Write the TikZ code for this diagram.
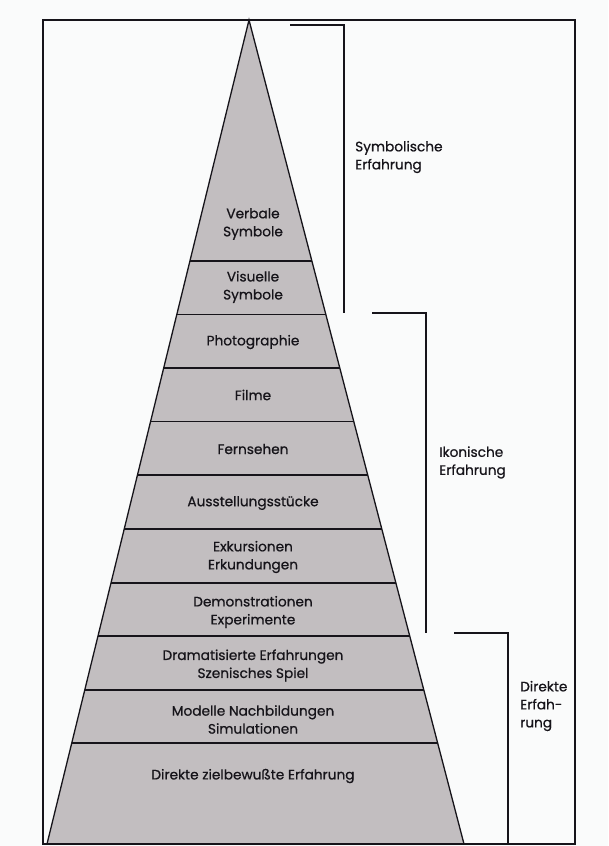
\documentclass[tikz,border=0pt]{standalone}
\usepackage{fontspec}
\setmainfont{Poppins}[BoldFont=Poppins, BoldFeatures={FakeBold=0.7}]
\usetikzlibrary{calc}
\begin{document}
\begin{tikzpicture}[x=1pt,y=-1pt,
  every node/.style={font=\fontsize{13.7}{18}\selectfont\bfseries, text=ink, inner sep=0pt},
  layertext/.style={align=center},
  sidetext/.style={align=left, anchor=west},
  layerline/.style={draw=ink, line width=1.1pt},
  bracketline/.style={draw=ink, line width=1.1pt},
]
\definecolor{ink}{RGB}{22,20,26}
\definecolor{pyrfill}{RGB}{194,190,192}
\definecolor{paper}{RGB}{250,251,251}
\fill[paper] (0,0) rectangle (608,846);
\useasboundingbox (0,0) rectangle (608,846);
% frame
\draw[ink, line width=1.1pt] (43,20) rectangle (575,844);
% pyramid
\coordinate (apex) at (249,20);
\coordinate (bl) at (47,844);
\coordinate (br) at (464,844);
\fill[pyrfill] (apex) -- (bl) -- (br) -- cycle;
% layer lines
\foreach \yy in {261,314.5,368,421.5,475,529,583,636,690,743}{
  \pgfmathsetmacro{\t}{(\yy-20)/824}
  \draw[layerline] ($(apex)!\t!(bl)$) -- ($(apex)!\t!(br)$);
}
\draw[ink, line width=1.3pt, line join=miter] (bl) -- (apex) -- (br);
\draw[ink, line width=1.3pt] (bl) -- (br);
% brackets
\coordinate (s1) at (290,25);
\coordinate (s2) at (344,25);
\coordinate (s3) at (344,313);
\coordinate (i1) at (372,313);
\coordinate (i2) at (426,313);
\coordinate (i3) at (426,633);
\coordinate (d1) at (454,633);
\coordinate (d2) at (508,633);
\coordinate (d3) at (508,844);
\draw[bracketline] (s1) -- (s2) -- (s3);
\draw[bracketline] (i1) -- (i2) -- (i3);
\draw[bracketline] (d1) -- (d2) -- (d3);
% layer texts
\node[layertext] (verbal) at (253,224) {Verbale\\Symbole};
\node[layertext] (visuell) at (253,287) {Visuelle\\Symbole};
\node[layertext] (photo) at (253,342) {Photographie};
\node[layertext] (filme) at (253,395) {Filme};
\node[layertext] (fern) at (253,449) {Fernsehen};
\node[layertext] (ausst) at (253,503) {Ausstellungsstücke};
\node[layertext] (exk) at (253,557) {Exkursionen\\Erkundungen};
\node[layertext] (demo) at (253,612) {Demonstrationen\\Experimente};
\node[layertext] (drama) at (253,665.5) {Dramatisierte Erfahrungen\\Szenisches Spiel};
\node[layertext] (modell) at (253,719.5) {Modelle Nachbildungen\\Simulationen};
\node[layertext] (direkt) at (253,776) {Direkte zielbewußte Erfahrung};
% side labels
\node[sidetext] (sym) at (355,157) {Symbolische\\Erfahrung};
\node[sidetext] (iko) at (439,462.5) {Ikonische\\Erfahrung};
\node[sidetext] (dir) at (520,706) {Direkte\\Erfah-\\rung};
\end{tikzpicture}
\end{document}
